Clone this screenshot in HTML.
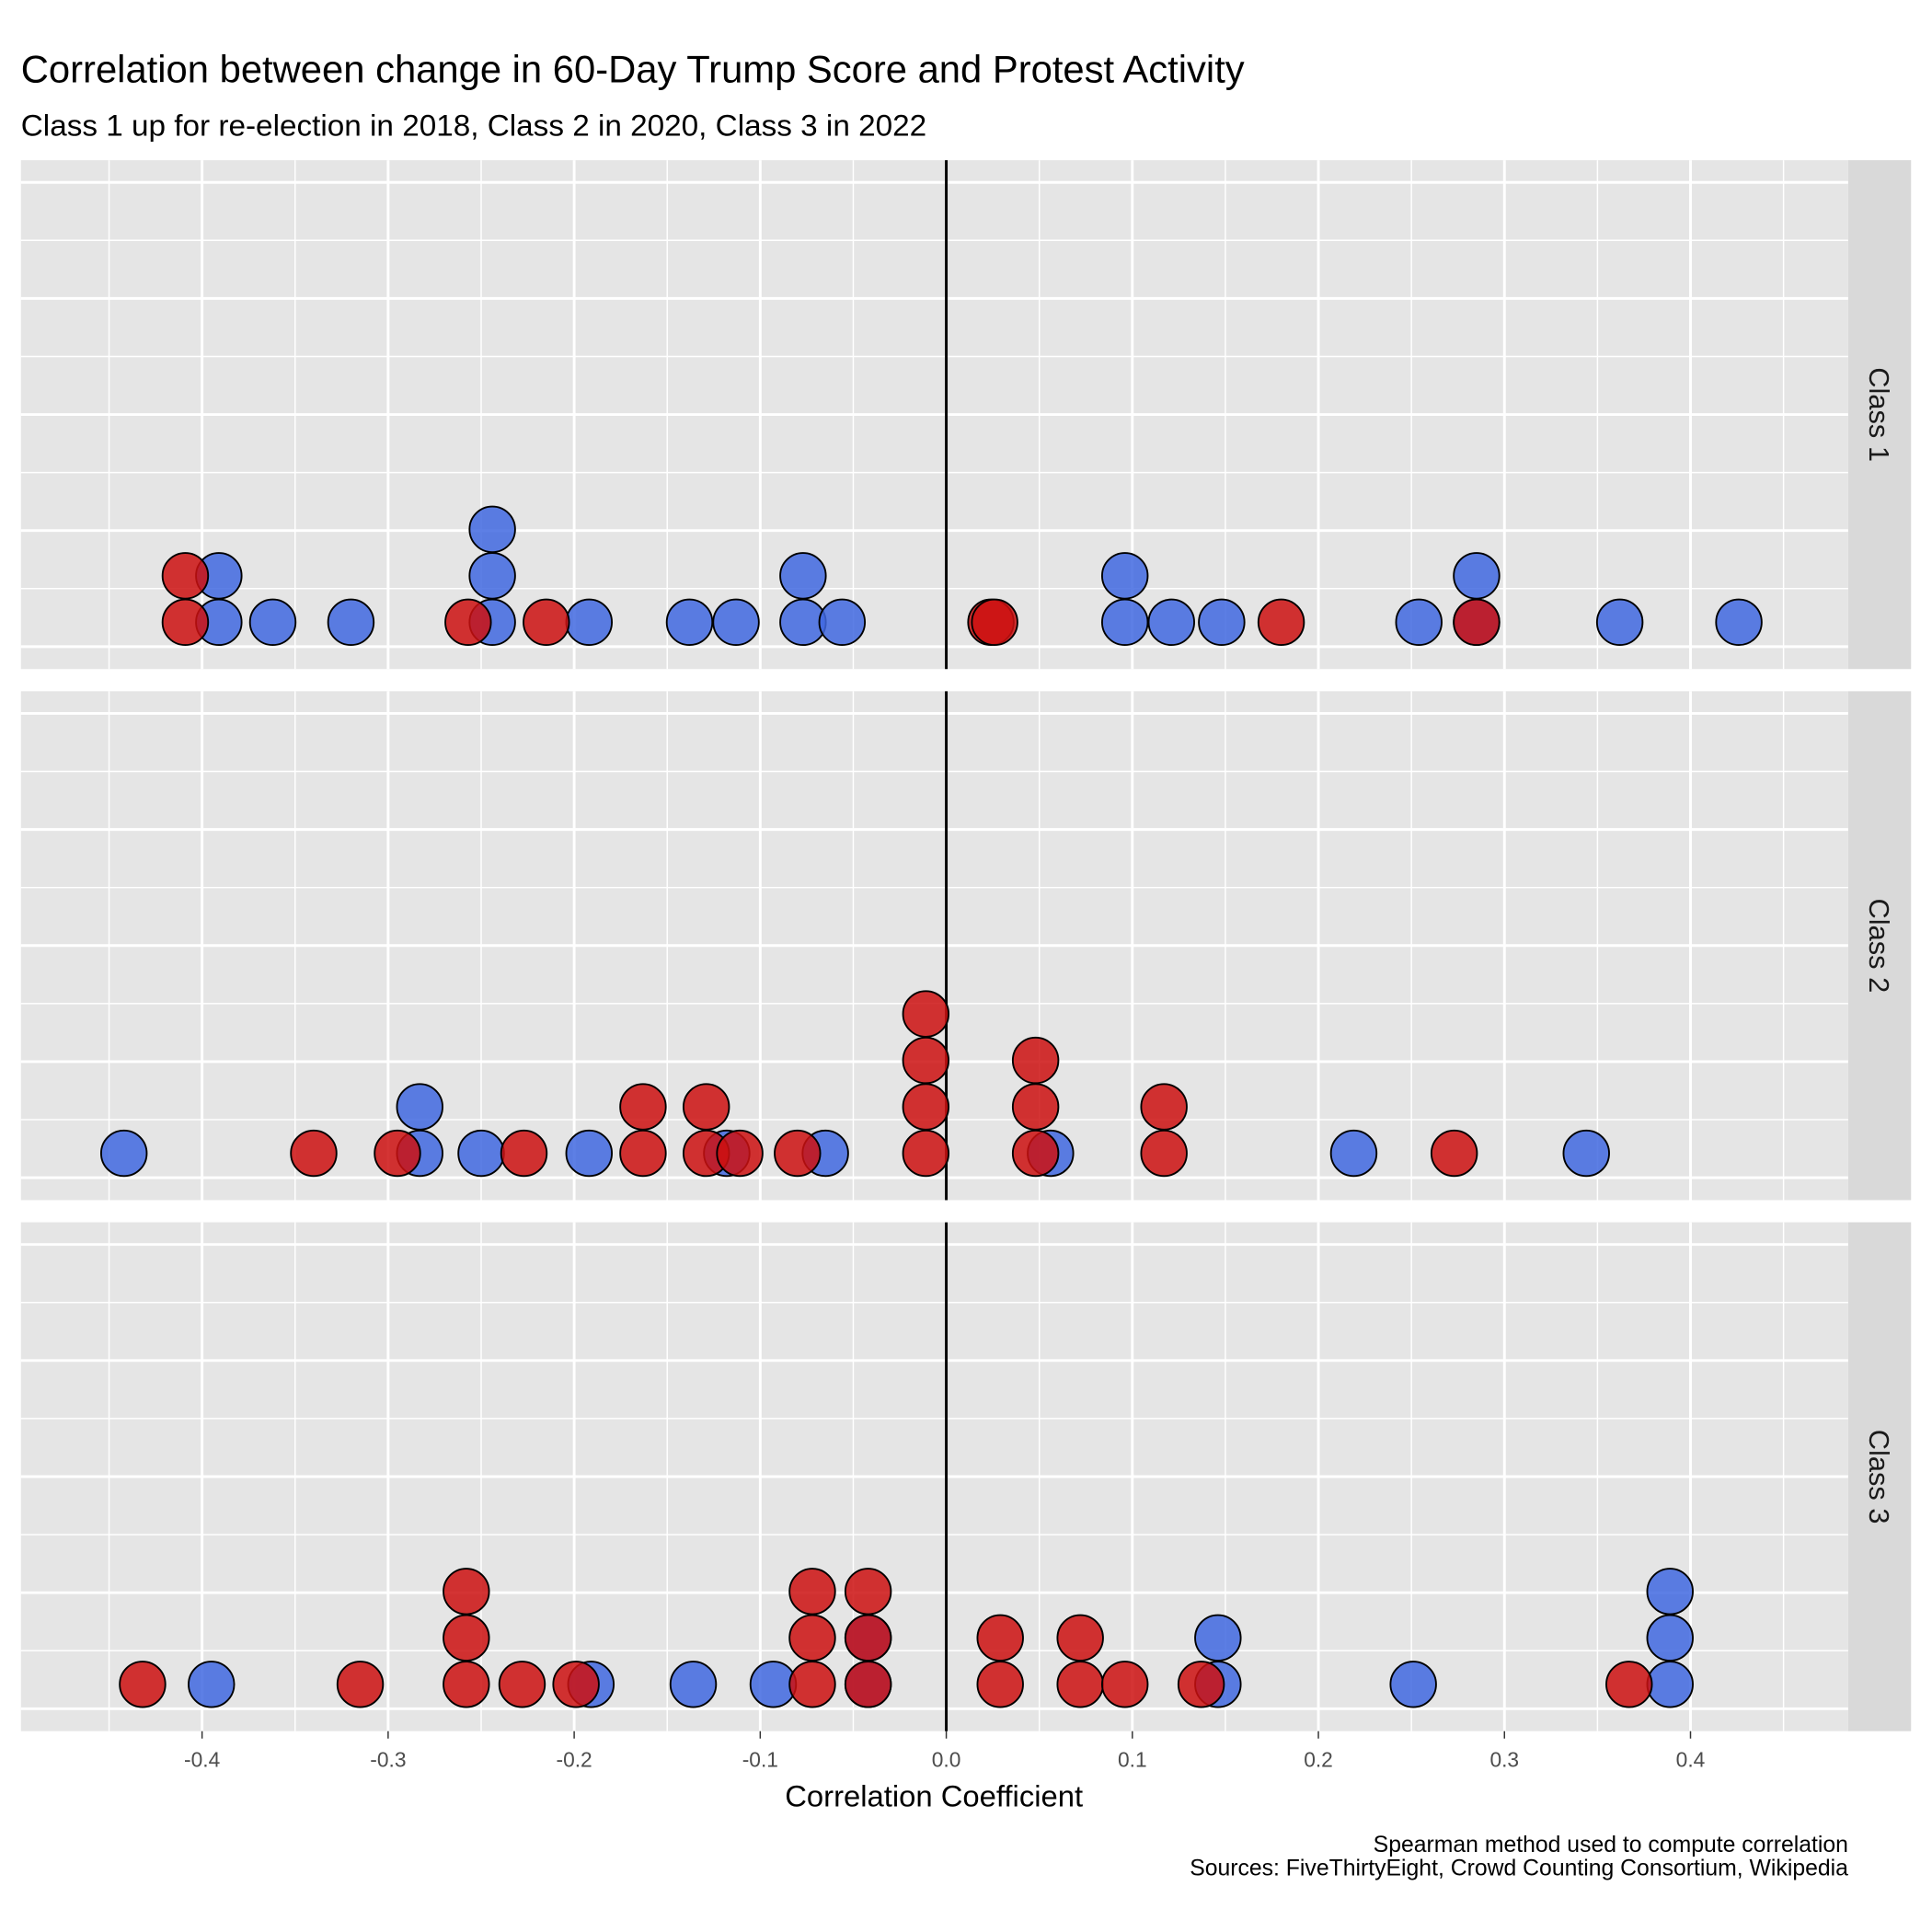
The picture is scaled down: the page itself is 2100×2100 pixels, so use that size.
<!DOCTYPE html>
<html><head><meta charset="utf-8">
<style>html,body{margin:0;padding:0;background:#fff}svg{display:block}</style>
</head><body>
<svg id="chart" width="2100" height="2100" viewBox="0 0 1568 1568" xmlns="http://www.w3.org/2000/svg" font-family="Liberation Sans, Arial, sans-serif">
<rect width="1568" height="1568" fill="#fff"/>
<text x="17" y="67" font-size="31" fill="#000" textLength="993" lengthAdjust="spacingAndGlyphs">Correlation between change in 60-Day Trump Score and Protest Activity</text>
<text x="17" y="110" font-size="24.5" fill="#000" textLength="735" lengthAdjust="spacingAndGlyphs">Class 1 up for re-election in 2018, Class 2 in 2020, Class 3 in 2022</text>
<text x="758" y="1466" font-size="24.5" text-anchor="middle" fill="#000">Correlation Coefficient</text>
<text x="1500" y="1503" font-size="18.5" text-anchor="end" fill="#000">Spearman method used to compute correlation</text>
<text x="1500" y="1522" font-size="18.5" text-anchor="end" fill="#000">Sources: FiveThirtyEight, Crowd Counting Consortium, Wikipedia</text>
<g id="plot"></g>
</svg>
<script>
const panelNames = ["Class 1", "Class 2", "Class 3"];
const class1Blue = [-0.391,-0.391,-0.362,-0.320,-0.244,-0.244,-0.244,-0.192,-0.138,-0.113,-0.077,-0.077,-0.056,0.096,0.096,0.121,0.148,0.254,0.285,0.285,0.362,0.426];
const class1Red = [-0.409,-0.409,-0.257,-0.215,0.024,0.026,0.180,0.285];
const class2Blue = [-0.442,-0.283,-0.283,-0.250,-0.192,-0.118,-0.065,0.056,0.219,0.344];
const class2Red = [-0.340,-0.295,-0.227,-0.163,-0.163,-0.129,-0.129,-0.111,-0.080,-0.011,-0.011,-0.011,-0.011,0.048,0.048,0.048,0.117,0.117,0.273];
const class3Blue = [-0.395,-0.191,-0.136,-0.093,-0.042,-0.042,0.146,0.146,0.251,0.389,0.389,0.389];
const class3Red = [-0.432,-0.315,-0.258,-0.258,-0.258,-0.228,-0.199,-0.072,-0.072,-0.072,-0.042,-0.042,-0.042,0.029,0.029,0.072,0.072,0.096,0.137,0.367];
const xTicks = [-0.4,-0.3,-0.2,-0.1,0.0,0.1,0.2,0.3,0.4];
const xTickLabels = ["-0.4","-0.3","-0.2","-0.1","0.0","0.1","0.2","0.3","0.4"];

const NS = "http://www.w3.org/2000/svg";
const plot = document.getElementById("plot");
const X0 = 17, X1 = 1500, pxPerUnit = 1510, zeroX = 768;
const panelTops = [130, 561, 992], panelH = 413;
function xs(v){ return zeroX + v * pxPerUnit; }
function mk(tag, attrs){ const e = document.createElementNS(NS, tag); for (const k in attrs) e.setAttribute(k, attrs[k]); plot.appendChild(e); return e; }

const series = [[class1Blue, class1Red],[class2Blue, class2Red],[class3Blue, class3Red]];
panelNames.forEach((name, p) => {
  const top = panelTops[p];
  const bg = mk("rect", {x:X0, y:top, width:X1-X0, height:panelH, fill:"#e5e5e5"});
  
  
  for (let i = 0; i <= 8; i++) {
    const y = top + 18 + i * 47.1;
    const g = mk("line", {x1:X0, x2:X1, y1:y, y2:y, stroke:"#fff", "stroke-width": i % 2 === 0 ? 2.2 : 1.1});
    
    
  }
  for (let v = -0.45; v <= 0.451; v += 0.05) {
    const major = Math.abs(Math.round(v * 100)) % 10 === 0;
    const g = mk("line", {x1:xs(v), x2:xs(v), y1:top, y2:top+panelH, stroke:"#fff", "stroke-width": major ? 2.2 : 1.1});
    
    
  }
  const st = mk("rect", {x:1500, y:top, width:51, height:panelH, fill:"#d9d9d9"});
  
  
  const cy = top + panelH / 2;
  const t = mk("text", {x:1525, y:cy, "font-size":23, fill:"#1a1a1a", "text-anchor":"middle", "dominant-baseline":"central", transform:`rotate(90 1525 ${cy})`});
  t.textContent = name;
  
  
  const z = mk("line", {x1:xs(0), x2:xs(0), y1:top, y2:top+panelH, stroke:"#000", "stroke-width":2.2});
  
  
  const base = top + panelH - 38;
  const colors = ["#4169E1", "#CC1111"];
  series[p].forEach((arr, si) => {
    const counts = {};
    arr.forEach(v => {
      const key = v.toFixed(3);
      const lvl = counts[key] || 0; counts[key] = lvl + 1;
      const c = mk("circle", {cx:xs(v), cy:base - lvl * 37.7, r:18.5, fill:colors[si], "fill-opacity":0.85, stroke:"#000", "stroke-width":1.4});
      
      
    });
  });
});
xTicks.forEach((v, i) => {
  const tk = mk("line", {x1:xs(v), x2:xs(v), y1:1405, y2:1411, stroke:"#333", "stroke-width":1.1});
  
  
  const tl = mk("text", {x:xs(v), y:1434, "font-size":17, fill:"#4d4d4d", "text-anchor":"middle"});
  tl.textContent = xTickLabels[i];
  
  
});
</script>
</body></html>
